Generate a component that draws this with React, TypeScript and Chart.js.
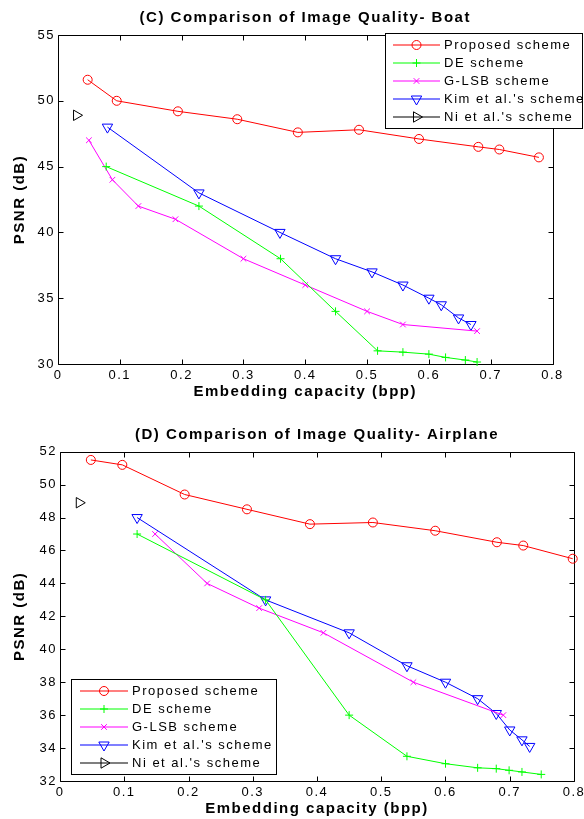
import React, { useEffect, useRef } from 'react';
import { Chart, registerables } from 'chart.js';
import { drawPoint } from 'chart.js/helpers';

Chart.register(...registerables);

// ---------- Data: (C) Boat ----------
const boatProposedX = [0.048, 0.095, 0.194, 0.290, 0.388, 0.487, 0.584, 0.680, 0.714, 0.778];
const boatProposedY = [51.6, 50.0, 49.2, 48.6, 47.6, 47.8, 47.1, 46.5, 46.3, 45.7];
const boatDEX = [0.078, 0.228, 0.360, 0.449, 0.517, 0.558, 0.600, 0.627, 0.659, 0.678];
const boatDEY = [45.0, 42.0, 38.0, 34.0, 31.0, 30.9, 30.75, 30.5, 30.3, 30.15];
const boatGLSBX = [0.050, 0.088, 0.130, 0.190, 0.300, 0.400, 0.500, 0.558, 0.678];
const boatGLSBY = [47.0, 44.0, 42.0, 41.0, 38.0, 36.0, 34.0, 33.0, 32.5];
const boatKimX = [0.080, 0.228, 0.359, 0.449, 0.508, 0.558, 0.600, 0.620, 0.648, 0.668];
const boatKimY = [48.0, 43.0, 40.0, 38.0, 37.0, 36.0, 35.0, 34.5, 33.5, 33.0];
const boatNiX = [0.030];
const boatNiY = [48.9];

// ---------- Data: (D) Airplane ----------
const airProposedX = [0.048, 0.097, 0.194, 0.291, 0.389, 0.487, 0.584, 0.680, 0.721, 0.798];
const airProposedY = [51.5, 51.2, 49.4, 48.5, 47.6, 47.7, 47.2, 46.5, 46.3, 45.5];
const airDEX = [0.120, 0.320, 0.450, 0.540, 0.600, 0.650, 0.679, 0.699, 0.719, 0.749];
const airDEY = [47.0, 43.0, 36.0, 33.5, 33.05, 32.8, 32.75, 32.65, 32.55, 32.4];
const airGLSBX = [0.148, 0.229, 0.310, 0.410, 0.550, 0.690];
const airGLSBY = [47.0, 44.0, 42.5, 41.0, 38.0, 36.0];
const airKimX = [0.120, 0.320, 0.450, 0.540, 0.600, 0.650, 0.679, 0.700, 0.719, 0.731];
const airKimY = [48.0, 43.0, 41.0, 39.0, 38.0, 37.0, 36.1, 35.1, 34.5, 34.1];
const airNiX = [0.030];
const airNiY = [48.9];

// ---------- Labels / ticks ----------
const seriesNames = ['Proposed scheme', 'DE scheme', 'G-LSB scheme', "Kim et al.'s scheme", "Ni et al.'s scheme"];
const xTitle = 'Embedding capacity (bpp)';
const yTitle = 'PSNR (dB)';
const boatTitle = '(C) Comparison of Image Quality- Boat';
const airTitle = '(D) Comparison of Image Quality- Airplane';
const xTickRange = [0, 0.8, 0.1];
const boatYRange = [30, 55, 5];
const airYRange = [32, 52, 2];

const FONT = '"Liberation Sans", Arial, Helvetica, sans-serif';
const LS = '1.5px';

const styles = [
  { color: '#ff0000', pointStyle: 'circle', radius: 4.5, rotation: 0, line: true },
  { color: '#00ff00', pointStyle: 'cross', radius: 4, rotation: 0, line: true },
  { color: '#ff00ff', pointStyle: 'crossRot', radius: 4, rotation: 0, line: true },
  { color: '#0000ff', pointStyle: 'triangle', radius: 6, rotation: 180, line: true },
  { color: '#000000', pointStyle: 'triangle', radius: 6, rotation: 90, line: false },
];

function makeDatasets(xs: number[][], ys: number[][]) {
  return xs.map((xa, k) => {
    const s = styles[k];
    return {
      label: seriesNames[k],
      data: xa.map((x, i) => ({ x, y: ys[k][i] })),
      borderColor: s.color,
      backgroundColor: 'rgba(0,0,0,0)',
      borderWidth: 1,
      pointStyle: s.pointStyle,
      pointRadius: s.radius,
      pointRotation: s.rotation,
      pointBorderColor: s.color,
      pointBackgroundColor: 'rgba(0,0,0,0)',
      pointBorderWidth: 1,
      showLine: s.line,
      tension: 0,
      clip: false,
      order: k,
    };
  });
}

const spacingPlugin = {
  id: 'spacing',
  beforeUpdate(chart: any) { chart.ctx.letterSpacing = LS; },
  beforeLayout(chart: any) { chart.ctx.letterSpacing = LS; },
  beforeDraw(chart: any) { chart.ctx.letterSpacing = LS; },
};

const framePlugin = {
  id: 'frame',
  beforeDatasetsDraw(chart: any) {
    const ctx = chart.ctx;
    const { left, right, top, bottom } = chart.chartArea;
    const L = Math.round(left) + 0.5, R = Math.round(right) + 0.5;
    const T = Math.round(top) + 0.5, B = Math.round(bottom) + 0.5;
    ctx.save();
    ctx.strokeStyle = '#000';
    ctx.lineWidth = 1;
    ctx.beginPath();
    ctx.rect(L, T, R - L, B - T);
    const tl = 5;
    chart.scales.x.ticks.forEach((t: any) => {
      const px = Math.round(chart.scales.x.getPixelForValue(t.value)) + 0.5;
      ctx.moveTo(px, B); ctx.lineTo(px, B - tl);
      ctx.moveTo(px, T); ctx.lineTo(px, T + tl);
    });
    chart.scales.y.ticks.forEach((t: any) => {
      const py = Math.round(chart.scales.y.getPixelForValue(t.value)) + 0.5;
      ctx.moveTo(L, py); ctx.lineTo(L + tl, py);
      ctx.moveTo(R, py); ctx.lineTo(R - tl, py);
    });
    ctx.stroke();
    ctx.restore();
  },
  afterDraw(chart: any, _args: any, opts: any) {
    const ctx = chart.ctx;
    const { left, right } = chart.chartArea;
    ctx.save();
    ctx.letterSpacing = LS;
    // title
    ctx.fillStyle = '#000';
    ctx.font = `bold 15px ${FONT}`;
    ctx.textAlign = 'center';
    ctx.textBaseline = 'middle';
    ctx.fillText(opts.title, (left + right) / 2, opts.titleY);
    // legend
    const lg = opts.legend;
    ctx.fillStyle = '#fff';
    ctx.fillRect(lg.x, lg.y, lg.w, lg.h);
    ctx.strokeStyle = '#000';
    ctx.lineWidth = 1;
    ctx.strokeRect(Math.round(lg.x) + 0.5, Math.round(lg.y) + 0.5, Math.round(lg.w), Math.round(lg.h));
    chart.data.datasets.forEach((ds: any, i: number) => {
      const st = styles[i];
      const y = lg.row0 + i * lg.step;
      const yy = Math.round(y);
      ctx.save();
      ctx.strokeStyle = st.color;
      ctx.lineWidth = 1.2;
      ctx.beginPath();
      ctx.moveTo(lg.lineX0, yy);
      ctx.lineTo(lg.lineX1, yy);
      ctx.stroke();
      ctx.lineWidth = 1;
      ctx.fillStyle = 'rgba(0,0,0,0)';
      ctx.strokeStyle = st.color;
      drawPoint(ctx, { pointStyle: st.pointStyle, rotation: st.rotation, radius: st.radius, borderWidth: 1 }, (lg.lineX0 + lg.lineX1) / 2, yy);
      ctx.restore();
      ctx.fillStyle = '#000';
      ctx.font = `13px ${FONT}`;
      ctx.textAlign = 'left';
      ctx.textBaseline = 'middle';
      ctx.fillText(ds.label, lg.textX, y + 0.5);
    });
    ctx.restore();
  },
};

function makeConfig(datasets: any[], yRange: number[], layout: any, frame: any) {
  return {
    type: 'line',
    data: { datasets },
    options: {
      animation: false,
      responsive: false,
      events: [],
      layout: { padding: layout.padding },
      plugins: {
        legend: { display: false },
        tooltip: { enabled: false },
        title: { display: false },
        frame,
      },
      scales: {
        x: {
          type: 'linear',
          min: xTickRange[0],
          max: xTickRange[1],
          grid: { display: false, drawTicks: false },
          border: { display: false },
          ticks: {
            stepSize: xTickRange[2],
            padding: 4,
            color: '#000',
            maxRotation: 0,
            autoSkip: false,
            font: { family: FONT, size: 13 },
            callback: (v: any) => (Math.abs(v) < 1e-9 ? '0' : Number(v).toFixed(1)),
          },
          title: {
            display: true,
            text: xTitle,
            color: '#000',
            font: { family: FONT, size: 15, weight: 'bold' },
            padding: { top: 0, bottom: layout.xTitlePad },
          },
          afterFit: (s: any) => {
            s.height = layout.xHeight;
            s.paddingLeft = 0;
            s.paddingRight = 0;
          },
        },
        y: {
          type: 'linear',
          min: yRange[0],
          max: yRange[1],
          grid: { display: false, drawTicks: false },
          border: { display: false },
          ticks: {
            stepSize: yRange[2],
            padding: 3,
            color: '#000',
            autoSkip: false,
            font: { family: FONT, size: 13 },
          },
          title: {
            display: true,
            text: yTitle,
            color: '#000',
            font: { family: FONT, size: 15, weight: 'bold' },
            padding: { top: 9, bottom: 0 },
          },
          afterFit: (s: any) => {
            s.width = layout.yWidth;
            s.paddingTop = 0;
            s.paddingBottom = 0;
          },
        },
      },
    },
    plugins: [spacingPlugin, framePlugin],
  };
}

function ChartCanvas({ config, width, height, top }: any) {
  const ref = useRef<HTMLCanvasElement | null>(null);
  useEffect(() => {
    if (!ref.current) return;
    const chart = new Chart(ref.current, config);
    return () => chart.destroy();
  }, []);
  return (
    <canvas
      ref={ref}
      width={width}
      height={height}
      style={{ position: 'absolute', left: 0, top, width, height, display: 'block' }}
    />
  );
}

export default function App() {
  const boatConfig = makeConfig(
    makeDatasets(
      [boatProposedX, boatDEX, boatGLSBX, boatKimX, boatNiX],
      [boatProposedY, boatDEY, boatGLSBY, boatKimY, boatNiY]
    ),
    boatYRange,
    { padding: { left: 2, right: 31.5, top: 35, bottom: 1 }, xHeight: 40, yWidth: 56, xTitlePad: 3 },
    {
      title: boatTitle,
      titleY: 18,
      legend: { x: 385, y: 33, w: 197, h: 95, row0: 45, step: 18.1, lineX0: 393, lineX1: 440, textX: 444 },
    }
  );
  const airConfig = makeConfig(
    makeDatasets(
      [airProposedX, airDEX, airGLSBX, airKimX, airNiX],
      [airProposedY, airDEY, airGLSBY, airKimY, airNiY]
    ),
    airYRange,
    { padding: { left: 2, right: 10, top: 46.7, bottom: 0 }, xHeight: 38, yWidth: 58, xTitlePad: 1 },
    {
      title: airTitle,
      titleY: 30,
      legend: { x: 71, y: 274, w: 205, h: 95, row0: 285.7, step: 18.1, lineX0: 80, lineX1: 128, textX: 132 },
    }
  );
  return (
    <div style={{ position: 'absolute', left: 0, top: 0, width: 584, height: 819, background: '#fff' }}>
      <ChartCanvas config={boatConfig} width={584} height={405} top={0} />
      <ChartCanvas config={airConfig} width={584} height={414} top={405} />
    </div>
  );
}
